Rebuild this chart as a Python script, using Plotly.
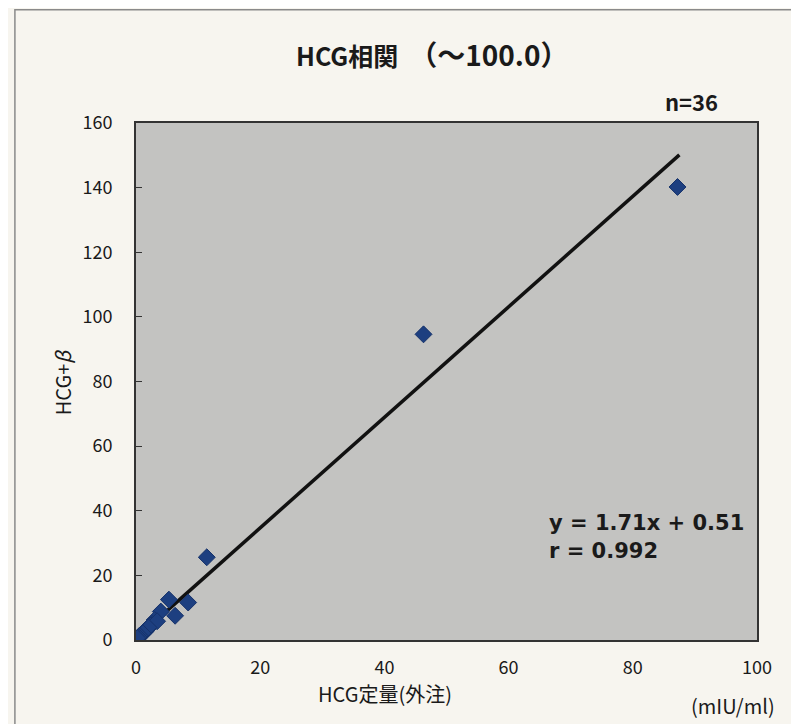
import plotly.graph_objects as go

x_ref = [87.2, 46.3, 11.4, 8.4, 5.3, 6.3, 4.0, 3.0, 2.6, 2.2, 1.8, 1.5, 1.2, 1.0, 0.8, 0.6, 0.5, 0.4,
         0.3, 0.3, 0.2, 0.2, 0.1, 0.1, 2.4, 1.7, 1.3, 0.9, 0.7, 0.5, 3.4, 2.0, 1.1, 0.6, 0.4, 0.2]
y_test = [140.2, 94.6, 25.6, 11.6, 12.5, 7.5, 8.8, 6.2, 5.0, 4.3, 3.6, 2.6, 2.3, 1.8, 1.5, 1.0, 1.1, 0.8,
          0.7, 0.6, 0.5, 0.4, 0.3, 0.2, 4.5, 3.2, 2.4, 1.9, 1.4, 1.2, 5.8, 3.9, 2.1, 1.3, 0.9, 0.6]
slope = 1.71
intercept = 0.51
r_value = 0.992
n_count = 36
fit_x = [0, 87.5]
x_ticks = [0, 20, 40, 60, 80, 100]
y_ticks = [0, 20, 40, 60, 80, 100, 120, 140, 160]

fit_y = [slope * v + intercept for v in fit_x]

fig = go.Figure()
fig.add_trace(go.Scatter(x=fit_x, y=fit_y, mode="lines",
                         line=dict(color="#111111", width=3.5), hoverinfo="skip"))
fig.add_trace(go.Scatter(x=x_ref, y=y_test, mode="markers",
                         marker=dict(symbol="diamond", size=13, color="#1d3f80",
                                     line=dict(color="#16326a", width=1))))

font_jp = "Noto Sans CJK JP, Noto Sans, sans-serif"
eq_font = dict(size=21, family="DejaVu Sans, sans-serif", color="#1a1a1a")
fig.update_layout(
    width=799, height=724,
    margin=dict(l=128, r=50, t=115, b=92),
    paper_bgcolor="#f7f5ef",
    plot_bgcolor="#c3c3c1",
    showlegend=False,
    font=dict(family=font_jp, color="#1a1a1a", size=15),
    xaxis=dict(range=[0, 100], tickvals=x_ticks, showgrid=False, zeroline=False,
               showline=True, linecolor="#333333", linewidth=2, mirror=True,
               ticks="", ticklabelstandoff=10, tickfont=dict(size=18)),
    yaxis=dict(range=[0, 160], tickvals=y_ticks, showgrid=False, zeroline=False,
               showline=True, linecolor="#333333", linewidth=2, mirror=True,
               ticks="inside", ticklen=6, tickcolor="#333333", ticklabelstandoff=18,
               tickfont=dict(size=18)),
    shapes=[dict(type="rect", xref="paper", yref="paper", x0=-0.195, x1=1.061, y0=-0.18, y1=1.219,
                 line=dict(color="#8a8a8a", width=1.5), fillcolor="rgba(0,0,0,0)", layer="below")],
    annotations=[
        dict(text="<b>HCG相関　<span style='font-size:28px'>（～100.0）</span></b>",
             xref="paper", yref="paper", x=0.477, y=1.134,
             showarrow=False, xanchor="center", yanchor="middle",
             font=dict(size=25, family=font_jp, color="#1a1a1a")),
        dict(text="<b>n=" + str(n_count) + "</b>", xref="paper", yref="paper", x=0.894, y=1.042,
             showarrow=False, xanchor="center", yanchor="middle", font=dict(size=22)),
        dict(text="HCG+<i>β</i>", xref="paper", yref="paper", x=-0.118, y=0.5, textangle=-90,
             showarrow=False, xanchor="center", yanchor="middle", font=dict(size=20)),
        dict(text="HCG定量(外注)", xref="paper", yref="paper", x=0.401, y=-0.103,
             showarrow=False, xanchor="center", yanchor="middle", font=dict(size=20)),
        dict(text="<b>y = " + str(slope) + "x + " + str(intercept) + "</b>",
             xref="paper", yref="paper", x=0.662, y=0.226, showarrow=False,
             xanchor="left", yanchor="middle", align="left", font=eq_font),
        dict(text="<b>r = " + str(r_value) + "</b>",
             xref="paper", yref="paper", x=0.662, y=0.172, showarrow=False,
             xanchor="left", yanchor="middle", align="left", font=eq_font),
        dict(text="(mIU/ml)", xref="paper", yref="paper", x=1.032, y=-0.126,
             showarrow=False, xanchor="right", yanchor="middle", font=dict(size=20)),
    ],
)
fig.write_html("out.html")
